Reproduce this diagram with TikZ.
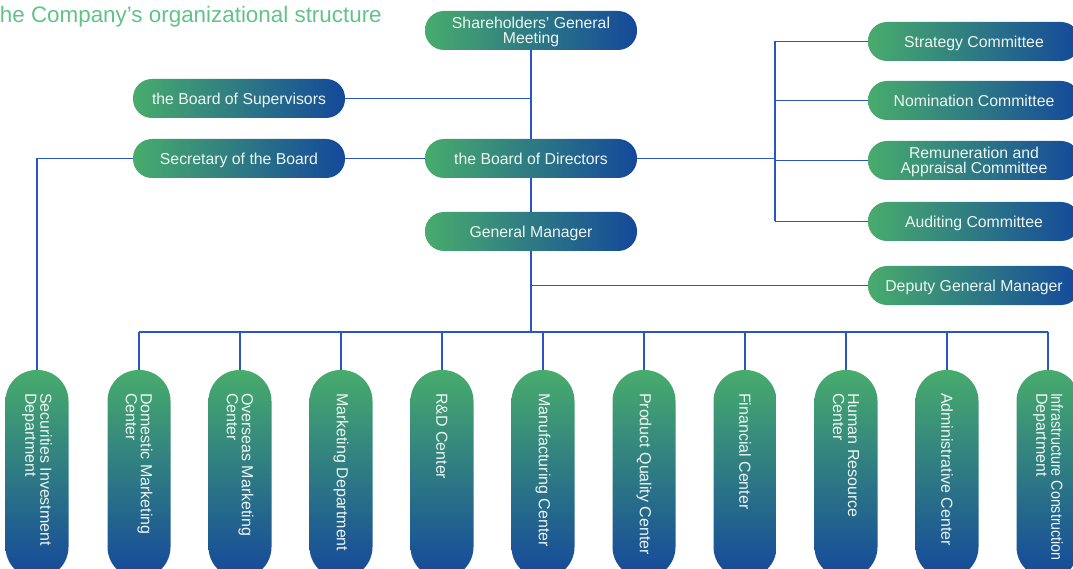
\documentclass[tikz,border=0pt]{standalone}
\usepackage{fontspec}
\setmainfont{Liberation Sans}
\definecolor{cg}{RGB}{72,172,108}
\definecolor{cb}{RGB}{20,72,155}
\definecolor{ctext}{RGB}{238,246,242}
\definecolor{cline}{RGB}{40,86,196}
\definecolor{ctitle}{RGB}{98,194,138}
\tikzset{
  hbox/.style={rounded corners=19pt, minimum width=212pt, minimum height=39pt, inner sep=0pt,
    left color=cg, right color=cb, text=ctext, align=center, text depth=0pt,
    font=\fontsize{15.8}{15}\selectfont},
  vbox/.style={rounded corners=31pt, minimum width=63pt, minimum height=208pt, inner sep=0pt,
    top color=cg, bottom color=cb},
  vtext/.style={rotate=-90, anchor=west, inner sep=0pt, text=ctext, align=left,
    font=\fontsize{16}{15}\selectfont},
  conn/.style={draw=cline, line width=1.2pt},
}
\begin{document}
\begin{tikzpicture}[x=1pt,y=-1pt]
\useasboundingbox (0,0) rectangle (1073,569);
\node[anchor=base west, inner sep=0pt, text=ctitle, font=\fontsize{22.4}{26}\selectfont] (title) at (-6.5,22.5) {the Company’s organizational structure};

\node[hbox] (sgm) at (531,30.5) {Shareholders’ General\\Meeting};
\node[hbox] (bos) at (239,98.5) {the Board of Supervisors};
\node[hbox] (sec) at (239,158.5) {Secretary of the Board};
\node[hbox] (bod) at (531,158.5) {the Board of Directors};
\node[hbox] (gm) at (531,231.5) {General Manager};
\node[hbox] (str) at (974,41.5) {Strategy Committee};
\node[hbox] (nom) at (974,100.5) {Nomination Committee};
\node[hbox] (rem) at (974,160.5) {Remuneration and\\Appraisal Committee};
\node[hbox] (aud) at (974,221.5) {Auditing Committee};
\node[hbox] (dgm) at (974,285.5) {Deputy General Manager};

\coordinate (cbus) at (775,158.5);
\coordinate (bus) at (531,332);

\foreach \n/\x/\t in {sid/37/{Securities Investment\\Department},
                      dom/139/{Domestic Marketing\\Center},
                      ovs/240/{Overseas Marketing\\Center},
                      mkt/341/{Marketing Department},
                      rd/442/{R\&D Center},
                      mfg/543/{Manufacturing Center},
                      pqc/644/{Product Quality Center},
                      fin/745/{Financial Center},
                      hrc/846/{Human Resource\\Center},
                      adm/947/{Administrative Center},
                      inf/1048/{\scalebox{0.89}[1]{Infrastructure Construction}\\Department}}{
  \node[vbox] (\n) at (\x,474) {};
  \node[vtext] (\n t) at ([yshift=-23pt]\n.north) {\t};
}

% connectors
\draw[conn] (sgm.south) -- (bod.north);
\draw[conn] (bos.east) -- (bos.east -| sgm.south);
\draw[conn] (sec.east) -- (bod.west);
\draw[conn] (bod.south) -- (gm.north);
\draw[conn] (bod.east) -- (cbus);
\draw[conn] (cbus |- str.west) -- (cbus |- aud.west);
\foreach \c in {str,nom,rem,aud}{
  \draw[conn] (\c.west) -- (\c.west -| cbus);
}
\draw[conn] (gm.south) -- (bus);
\draw[conn] (dgm.west) -- (dgm.west -| gm.south);
\draw[conn] (sec.west) -| (sid.north);
\draw[conn] (dom.north |- bus) -- (inf.north |- bus);
\foreach \n in {dom,ovs,mkt,rd,mfg,pqc,fin,hrc,adm,inf}{
  \draw[conn] (\n.north) -- (\n.north |- bus);
}
\end{tikzpicture}
\end{document}
